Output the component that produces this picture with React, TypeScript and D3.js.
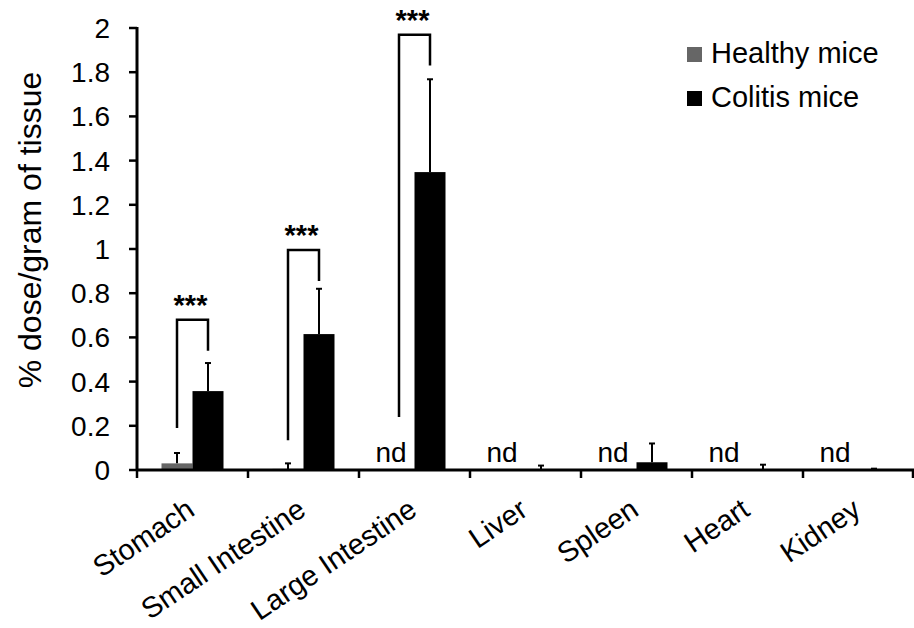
import React from "react";
import * as d3 from "d3";

const categories = ["Stomach", "Small Intestine", "Large Intestine", "Liver", "Spleen", "Heart", "Kidney"];
const healthyMean = [0.03, 0.005, 0, 0, 0, 0, 0];
const healthyErr = [0.047, 0.025, 0, 0, 0, 0, 0];
const colitisMean = [0.357, 0.615, 1.348, 0.003, 0.035, 0.002, 0.002];
const colitisErr = [0.127, 0.205, 0.42, 0.017, 0.085, 0.022, 0.004];
const healthyND = [false, false, true, true, true, true, true];
const yTicks = [0, 0.2, 0.4, 0.6, 0.8, 1, 1.2, 1.4, 1.6, 1.8, 2];
const sigCats = ["Stomach", "Small Intestine", "Large Intestine"];
const sigLeftBottom = [0.19, 0.135, 0.24];
const sigRightBottom = [0.54, 0.855, 1.83];
const sigTop = [0.68, 0.995, 1.97];
const seriesNames = ["Healthy mice", "Colitis mice"];
const seriesColors = ["#666666", "#000000"];

const W = 914;
const H = 628;
const FONT = "'Liberation Sans', Arial, Helvetica, sans-serif";

export default function App() {
  const x0 = 137;
  const x1 = 914;
  const yTop = 28;
  const yBot = 470;
  const x = d3.scaleBand<string>().domain(categories).range([x0, x0 + 111 * 7]).paddingInner(0).paddingOuter(0);
  const y = d3.scaleLinear().domain([0, 2]).range([yBot, yTop]);
  const bw = 31;
  const center = (c: string) => (x(c) as number) + x.bandwidth() / 2;

  return (
    <svg width={W} height={H} style={{ position: "absolute", left: 0, top: 0, background: "#fff" }} fontFamily={FONT}>
      <rect x={0} y={0} width={W} height={H} fill="#fff" />
      {/* bars */}
      {categories.map((c, i) => {
        const cx = center(c);
        return (
          <g key={c}>
            {!healthyND[i] && (
              <g>
                <rect x={cx - bw} y={y(healthyMean[i])} width={bw} height={yBot - y(healthyMean[i])} fill={seriesColors[0]} />
                <line x1={cx - bw / 2} x2={cx - bw / 2} y1={y(healthyMean[i])} y2={y(healthyMean[i] + healthyErr[i])} stroke="#000" strokeWidth={2} />
                <line x1={cx - bw / 2 - 3} x2={cx - bw / 2 + 3} y1={y(healthyMean[i] + healthyErr[i])} y2={y(healthyMean[i] + healthyErr[i])} stroke="#000" strokeWidth={2} />
              </g>
            )}
            {healthyND[i] && (
              <text x={cx - bw / 2 - 8} y={462} fontSize={28} textAnchor="middle" fill="#000">nd</text>
            )}
            <rect x={cx} y={y(colitisMean[i])} width={bw} height={yBot - y(colitisMean[i])} fill={seriesColors[1]} />
            <line x1={cx + bw / 2} x2={cx + bw / 2} y1={y(colitisMean[i])} y2={y(colitisMean[i] + colitisErr[i])} stroke="#000" strokeWidth={2} />
            <line x1={cx + bw / 2 - 3} x2={cx + bw / 2 + 3} y1={y(colitisMean[i] + colitisErr[i])} y2={y(colitisMean[i] + colitisErr[i])} stroke="#000" strokeWidth={2} />
          </g>
        );
      })}
      {/* significance brackets */}
      {sigCats.map((c, i) => {
        const cx = center(c);
        const lx = cx - bw / 2;
        const rx = cx + bw / 2;
        return (
          <g key={"sig" + c}>
            <path d={`M${lx},${y(sigLeftBottom[i])}V${y(sigTop[i])}H${rx}V${y(sigRightBottom[i])}`} fill="none" stroke="#000" strokeWidth={2.5} />
            <text x={cx - 2} y={y(sigTop[i]) - 5} fontSize={29} fontWeight="bold" textAnchor="middle" fill="#000">***</text>
          </g>
        );
      })}
      {/* y axis */}
      <line x1={x0} x2={x0} y1={yTop - 1} y2={yBot + 1} stroke="#000" strokeWidth={3} />
      {yTicks.map((t) => (
        <g key={"yt" + t}>
          <line x1={x0 - 8} x2={x0} y1={y(t)} y2={y(t)} stroke="#000" strokeWidth={2.5} />
          <text x={x0 - 27} y={y(t) + 10} fontSize={28} textAnchor="end" fill="#000">{String(t)}</text>
        </g>
      ))}
      {/* x axis */}
      <line x1={x0 - 1} x2={x1} y1={yBot} y2={yBot} stroke="#000" strokeWidth={3} />
      {categories.map((c) => (
        <line key={"xt" + c} x1={(x(c) as number)} x2={(x(c) as number)} y1={yBot} y2={yBot + 8} stroke="#000" strokeWidth={2.5} />
      ))}
      <line x1={x0 + 111 * 7 - 1} x2={x0 + 111 * 7 - 1} y1={yBot} y2={yBot + 8} stroke="#000" strokeWidth={2.5} />
      {categories.map((c) => {
        const ax = center(c) + 4;
        const ay = 514;
        return (
          <text key={"xl" + c} x={ax} y={ay} fontSize={29} textAnchor="end" transform={`rotate(-34 ${ax} ${ay})`} fill="#000">{c}</text>
        );
      })}
      {/* y label */}
      <text x={0} y={0} fontSize={32} textAnchor="middle" transform={`translate(41,230) rotate(-90)`} fill="#000">% dose/gram of tissue</text>
      {/* legend */}
      {seriesNames.map((s, i) => (
        <g key={s}>
          <rect x={687} y={47 + i * 44} width={15} height={15} fill={seriesColors[i]} />
          <text x={711} y={63 + i * 44} fontSize={29} fill="#000">{s}</text>
        </g>
      ))}
    </svg>
  );
}
